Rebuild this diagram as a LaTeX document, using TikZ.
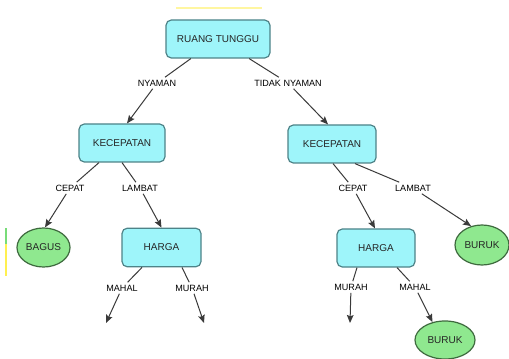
\documentclass[tikz,border=0pt]{standalone}
\usepackage{fontspec}
\setmainfont{Liberation Sans}
\usetikzlibrary{shapes.geometric,arrows.meta,calc}

\definecolor{boxfill}{HTML}{9EF5FA}
\definecolor{boxline}{HTML}{4E8388}
\definecolor{ovalfill}{HTML}{8FE88F}
\definecolor{ovalline}{HTML}{3E6A3E}
\definecolor{ink}{HTML}{262626}
\definecolor{wire}{HTML}{3A3A3A}

\tikzset{
  concept/.style={draw=boxline, fill=boxfill, line width=0.9pt, rounded corners=4pt,
    inner sep=0pt, text=ink, font=\fontsize{7.5}{9}\selectfont},
  leaf/.style={ellipse, draw=ovalline, fill=ovalfill, line width=0.9pt,
    inner sep=0pt, text=ink, font=\fontsize{7.5}{9}\selectfont},
  linkword/.style={inner sep=1.8pt, text=black, font=\fontsize{6.8}{8}\selectfont},
  wireline/.style={draw=wire, line width=0.75pt},
  arrowline/.style={wireline, -{Stealth[length=6pt,width=5pt,inset=1pt]}},
}

\begin{document}
\begin{tikzpicture}[x=0.75pt, y=-0.75pt]
\useasboundingbox (0,0) rectangle (509,359);
\fill[white] (0,0) rectangle (509,359);

% thin coloured remnants along the edges
\draw[color={rgb,255:red,255;green,246;blue,160}, line width=1.5pt] (176,8) -- (262,8);
\fill[color={rgb,255:red,120;green,220;blue,120}] (5,228) rectangle (7,244);
\fill[color={rgb,255:red,255;green,240;blue,80}] (5,244) rectangle (7,276);

% concepts
\node[concept, minimum width=78pt, minimum height=28.5pt] (rt) at (218,39) {RUANG TUNGGU};
\node[concept, minimum width=64.5pt, minimum height=28.5pt] (k1) at (122,143) {KECEPATAN};
\node[concept, minimum width=66pt, minimum height=28.5pt] (k2) at (332,144) {KECEPATAN};
\node[concept, minimum width=59.25pt, minimum height=29pt] (h1) at (161.5,247.5) {HARGA};
\node[concept, minimum width=58.5pt, minimum height=28.5pt] (h2) at (376,248) {HARGA};

% outcomes
\node[leaf, minimum width=39.75pt, minimum height=29.25pt] (bagus) at (43.5,247.5) {BAGUS};
\node[leaf, minimum width=40.5pt, minimum height=30pt] (b1) at (482,245) {BURUK};
\node[leaf, minimum width=45pt, minimum height=28.5pt] (b2) at (445,340) {BURUK};

% linking words
\node[linkword] (lnyaman) at (157,83) {NYAMAN};
\node[linkword] (ltidak) at (288,83) {TIDAK NYAMAN};
\node[linkword] (lcepat1) at (70,188) {CEPAT};
\node[linkword] (llambat1) at (140,188) {LAMBAT};
\node[linkword] (lcepat2) at (353,188) {CEPAT};
\node[linkword] (llambat2) at (413,188) {LAMBAT};
\node[linkword] (lmahal1) at (122,288) {MAHAL};
\node[linkword] (lmurah1) at (192,288) {MURAH};
\node[linkword] (lmurah2) at (351,287) {MURAH};
\node[linkword] (lmahal2) at (415,287) {MAHAL};

% open ends
\coordinate (e1) at (106,323);
\coordinate (e2) at (204,323);
\coordinate (e3) at (350,323);

% connectors
\draw[wireline] (rt) -- (lnyaman);
\draw[arrowline] (lnyaman) -- ($(k1.north)+(5,0)$);
\draw[wireline] (rt) -- (ltidak);
\draw[arrowline] (ltidak) -- ($(k2.north)+(-4,0)$);

\draw[wireline] ($(k1.south)+(-23,0)$) -- (lcepat1);
\draw[arrowline] (lcepat1) -- ($(bagus.north)+(1.5,0)$);
\draw[wireline] (k1.south) -- (llambat1);
\draw[arrowline] (llambat1) -- (h1.north);

\draw[wireline] ($(k2.south)+(1,0)$) -- (lcepat2);
\draw[arrowline] (lcepat2) -- ($(h2.north)+(-1,0)$);
\draw[wireline] ($(k2.south)+(23,0)$) -- (llambat2);
\draw[arrowline] (llambat2) -- (b1.120);

\draw[wireline] ($(h1.south)+(-19.5,0)$) -- (lmahal1);
\draw[arrowline] (lmahal1) -- (e1);
\draw[wireline] ($(h1.south)+(20.5,0)$) -- (lmurah1);
\draw[arrowline] (lmurah1) -- (e2);

\draw[wireline] ($(h2.south)+(-19,0)$) -- (lmurah2);
\draw[arrowline] (lmurah2) -- (e3);
\draw[wireline] ($(h2.south)+(21,0)$) -- (lmahal2);
\draw[arrowline] (lmahal2) -- (b2.125);
\end{tikzpicture}
\end{document}
